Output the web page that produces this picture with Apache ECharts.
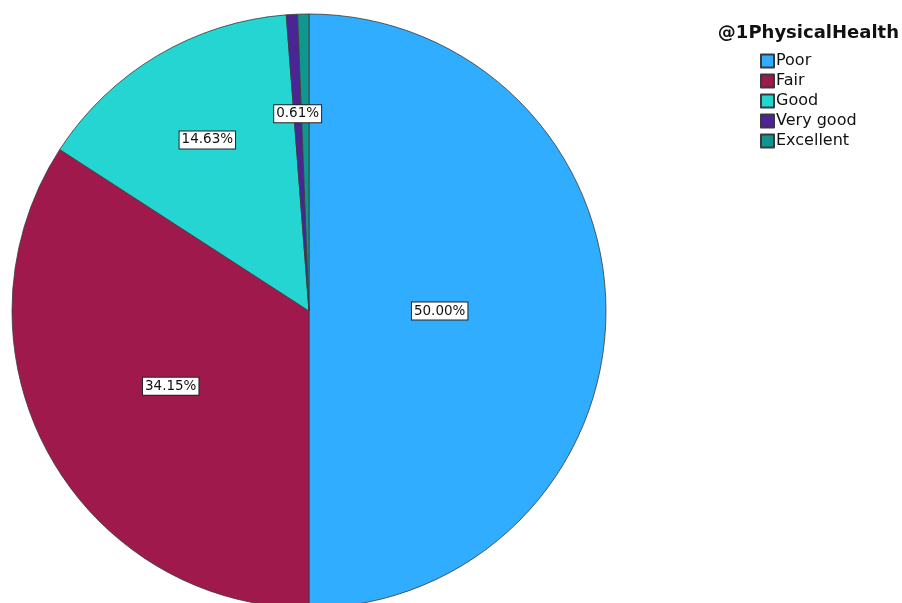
<!DOCTYPE html>
<html>
<head>
<meta charset="utf-8">
<script src="https://cdn.jsdelivr.net/npm/echarts@6/dist/echarts.min.js"></script>
<style>
  html, body { margin: 0; padding: 0; background: #fff; }
  #chart { width: 902px; height: 603px; }
</style>
</head>
<body>
<div id="chart"></div>
<script>
// Physical health ratings (percent of respondents)
const categories = ['Poor', 'Fair', 'Good', 'Very good', 'Excellent'];
const percents = [50.00, 34.15, 14.63, 0.61, 0.61];
const sliceColors = ['#31ADFF', '#A0194D', '#24D5D2', '#4B2596', '#10958F'];
// radial placement of each value label, as a share of the radius (null = no label)
const labelRadius = [0.44, 0.53, 0.67, 0.665, null];

const CENTER = [309, 311];
const RADIUS = 297;

const total = percents.reduce((a, b) => a + b, 0);
const midAngles = [];
let acc = 0;
percents.forEach(v => {
  midAngles.push(((acc + v / 2) / total) * 2 * Math.PI);
  acc += v;
});

const chart = echarts.init(document.getElementById('chart'), null, { renderer: 'canvas' });

chart.setOption({
  animation: false,
  title: {
    text: '@1PhysicalHealth',
    right: 3,
    top: 24,
    padding: 0,
    textStyle: { fontFamily: 'DejaVu Sans', fontWeight: 'bold', fontSize: 18, color: '#111' }
  },
  legend: {
    orient: 'vertical',
    left: 760,
    top: 53,
    padding: 0,
    itemWidth: 13,
    itemHeight: 13,
    itemGap: 4,
    icon: 'rect',
    selectedMode: false,
    data: categories,
    textStyle: { fontFamily: 'DejaVu Sans', fontSize: 16, lineHeight: 13, color: '#111', padding: [0, 0, 0, -3] }
  },
  series: [{
    type: 'pie',
    center: CENTER,
    radius: RADIUS,
    startAngle: 90,
    clockwise: true,
    silent: true,
    itemStyle: { borderColor: '#3a3a3a', borderWidth: 0.8 },
    label: {
      show: true,
      position: 'inside',
      formatter: p => p.value.toFixed(2) + '%',
      fontFamily: 'DejaVu Sans',
      fontSize: 13.5,
      color: '#111',
      backgroundColor: '#fff',
      borderColor: '#222',
      borderWidth: 1,
      padding: [2, 2, 1, 2]
    },
    labelLine: { show: false },
    labelLayout: function (params) {
      const i = params.dataIndex;
      const f = labelRadius[i];
      if (f == null) return {};
      const a = midAngles[i];
      return {
        x: CENTER[0] + Math.sin(a) * RADIUS * f,
        y: CENTER[1] - Math.cos(a) * RADIUS * f,
        align: 'center',
        verticalAlign: 'middle'
      };
    },
    data: categories.map((name, i) => ({
      name: name,
      value: percents[i],
      itemStyle: { color: sliceColors[i] },
      label: { show: labelRadius[i] != null }
    }))
  }]
});
</script>
</body>
</html>
